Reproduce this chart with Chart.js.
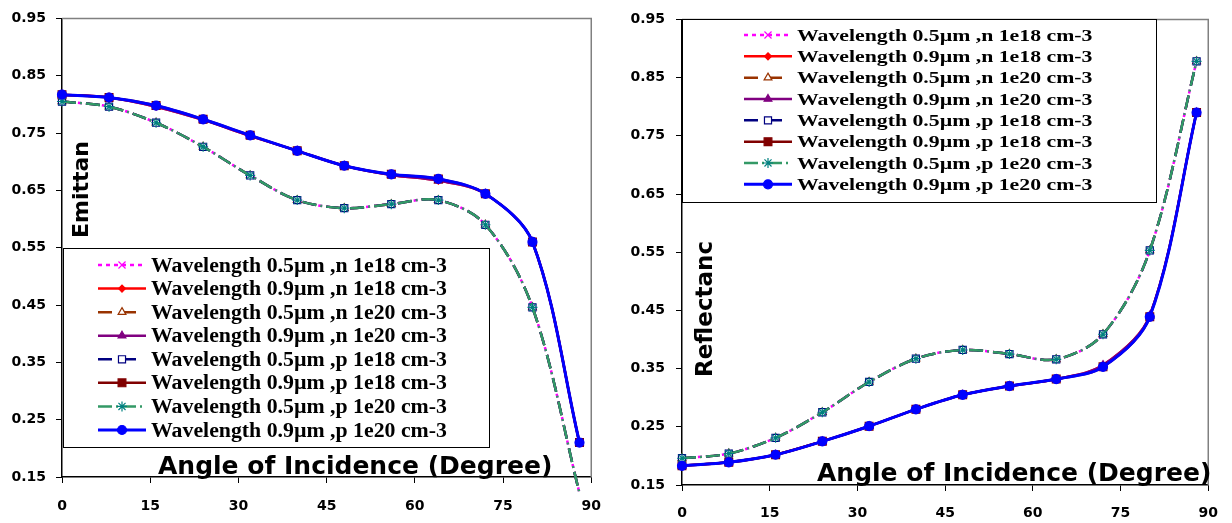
<!DOCTYPE html>
<html>
<head>
<meta charset="utf-8">
<script src="https://cdn.jsdelivr.net/npm/chart.js@4.4.0/dist/chart.umd.min.js"></script>
<style>
  body { margin: 0; background: #fff; }
  #wrap { position: relative; width: 1232px; height: 523px; }
  canvas { position: absolute; top: 0; }
</style>
</head>
<body>
<div id="wrap">
  <canvas id="emitChart" width="616" height="523" style="left:0"></canvas>
  <canvas id="reflChart" width="616" height="523" style="left:616px"></canvas>
</div>
<script>
// angle of incidence (degree)
const angles = [0, 8, 16, 24, 32, 40, 48, 56, 64, 72, 80, 88];

// emittance
const emit05 = [0.805, 0.796, 0.768, 0.726, 0.676, 0.633, 0.619, 0.626, 0.633, 0.590, 0.446, 0.122];
const emit09 = [0.817, 0.812, 0.798, 0.774, 0.746, 0.719, 0.693, 0.678, 0.670, 0.644, 0.560, 0.210];
const emit09n = [0.817, 0.812, 0.796, 0.773, 0.745, 0.719, 0.693, 0.677, 0.667, 0.644, 0.560, 0.210];

// reflectance
const refl05 = [0.196, 0.204, 0.231, 0.275, 0.327, 0.367, 0.382, 0.375, 0.366, 0.409, 0.553, 0.878];
const refl09 = [0.183, 0.189, 0.202, 0.225, 0.251, 0.280, 0.305, 0.320, 0.332, 0.353, 0.439, 0.790];
const refl09n = [0.183, 0.189, 0.202, 0.225, 0.251, 0.280, 0.305, 0.320, 0.332, 0.356, 0.441, 0.790];

const seriesLabels = [
  'Wavelength 0.5µm ,n 1e18 cm-3',
  'Wavelength 0.9µm ,n 1e18 cm-3',
  'Wavelength 0.5µm ,n 1e20 cm-3',
  'Wavelength 0.9µm ,n 1e20 cm-3',
  'Wavelength 0.5µm ,p 1e18 cm-3',
  'Wavelength 0.9µm ,p 1e18 cm-3',
  'Wavelength 0.5µm ,p 1e20 cm-3',
  'Wavelength 0.9µm ,p 1e20 cm-3'
];

const xMin = 0, xMax = 90, xStep = 15;
const yMin = 0.15, yMax = 0.95, yStep = 0.1;

// dashed series share a 24px period so the gaps line up like in the original
const styles = [
  {color: '#FF00FF', dash: [4, 4], point: 'crossRot', r: 5, fill: '#FF00FF', pc: '#FF00FF', w: 2.5},
  {color: '#FF0000', dash: [], point: 'rectRot', r: 3.5, fill: '#FF0000', pc: '#FF0000', w: 2.5},
  {color: '#993300', dash: [14, 10], point: 'triangle', r: 4.5, fill: '#FFFFFF', pc: '#993300', w: 2.5},
  {color: '#800080', dash: [], point: 'triangle', r: 4.5, fill: '#800080', pc: '#800080', w: 2.5},
  {color: '#000080', dash: [14, 10], point: 'rect', r: 5, fill: '#FFFFFF', pc: '#000080', w: 2.5},
  {color: '#800000', dash: [], point: 'rect', r: 5.5, fill: '#800000', pc: '#800000', w: 2.5},
  {color: '#339966', dash: [14, 4, 2, 4], point: 'star', r: 5, fill: '#008080', pc: '#008080', w: 2.5},
  {color: '#0000FF', dash: [], point: 'circle', r: 4.5, fill: '#0000FF', pc: '#0000FF', w: 3}
];

function makeDatasets(seriesValues) {
  return seriesValues.map((vals, i) => {
    const s = styles[i];
    return {
      label: seriesLabels[i],
      data: angles.map((a, k) => ({x: a, y: vals[k]})),
      borderColor: s.color,
      borderWidth: s.w,
      borderDash: s.dash,
      backgroundColor: s.fill,
      pointStyle: s.point,
      pointRadius: ctx => (ctx.raw && ctx.raw.y < yMin) ? 0 : s.r,
      pointBorderColor: s.pc,
      pointBackgroundColor: s.fill,
      pointBorderWidth: 1.2,
      tension: 0.33,
      clip: false,
      order: 7 - i
    };
  });
}

function overlay(o) {
  return {
    id: 'overlay',
    beforeDatasetsDraw(chart) {
      const a = chart.chartArea, ctx = chart.ctx;
      ctx.save();
      ctx.strokeStyle = '#808080';
      ctx.lineWidth = 1.5;
      ctx.beginPath();
      ctx.moveTo(a.left, a.top);
      ctx.lineTo(a.right, a.top);
      ctx.lineTo(a.right, a.bottom);
      ctx.stroke();
      ctx.restore();
    },
    afterDraw(chart) {
      const ctx = chart.ctx;
      ctx.save();
      ctx.fillStyle = '#000';
      // x title
      ctx.font = 'bold 25px "DejaVu Sans"';
      ctx.textBaseline = 'alphabetic';
      ctx.textAlign = 'left';
      ctx.fillText('Angle of Incidence (Degree)', o.xt.x, o.xt.y);
      // y title
      ctx.save();
      ctx.translate(o.yt.x, o.yt.y);
      ctx.rotate(-Math.PI / 2);
      ctx.font = 'bold ' + o.yt.size + 'px "DejaVu Sans"';
      ctx.fillText(o.yt.text, 0, 0);
      ctx.restore();

      // legend
      const L = o.legend;
      ctx.fillStyle = '#fff';
      ctx.fillRect(L.x, L.y, L.w, L.h);
      ctx.strokeStyle = '#000';
      ctx.lineWidth = 1;
      ctx.strokeRect(L.x + 0.5, L.y + 0.5, L.w, L.h);
      chart.data.datasets.forEach((ds, i) => {
        const s = styles[i];
        const y = L.row0 + i * L.step;
        ctx.save();
        ctx.strokeStyle = s.color;
        ctx.lineWidth = s.w;
        ctx.setLineDash(s.dash);
        ctx.beginPath();
        ctx.moveTo(L.l0, y);
        ctx.lineTo(L.l1, y);
        ctx.stroke();
        ctx.restore();
        ctx.save();
        ctx.fillStyle = s.fill;
        ctx.strokeStyle = s.pc;
        ctx.lineWidth = 1.2;
        Chart.helpers.drawPoint(ctx, {pointStyle: s.point, radius: s.r, rotation: 0, borderWidth: 1.2}, (L.l0 + L.l1) / 2, y);
        ctx.restore();
        ctx.save();
        ctx.translate(L.tx, y + 0.33 * L.fs);
        ctx.scale(L.sx, 1);
        ctx.font = 'bold ' + L.fs + 'px "Liberation Serif"';
        ctx.fillStyle = '#000';
        ctx.textBaseline = 'alphabetic';
        ctx.fillText(ds.label, 0, 0);
        ctx.restore();
      });
      ctx.restore();
    }
  };
}

function makeChart(id, seriesValues, box, o) {
  return new Chart(document.getElementById(id), {
    type: 'line',
    data: {datasets: makeDatasets(seriesValues)},
    options: {
      responsive: false,
      animation: false,
      devicePixelRatio: 1,
      layout: {padding: {left: 0, top: box.top, right: box.right, bottom: 0}},
      plugins: {legend: {display: false}, tooltip: {enabled: false}},
      scales: {
        x: {
          type: 'linear',
          min: xMin, max: xMax,
          afterFit: s => { s.height = box.xh; },
          ticks: {stepSize: xStep, color: '#000', padding: box.xpad,
                  font: {family: 'DejaVu Sans', size: 14, weight: 'bold'}},
          grid: {display: true, drawOnChartArea: false, drawTicks: true, tickLength: 6, color: '#000'},
          border: {display: true, color: '#000', width: 1.5}
        },
        y: {
          type: 'linear',
          min: yMin, max: yMax,
          afterFit: s => { s.width = box.yw; },
          ticks: {stepSize: yStep, color: '#000', padding: box.ypad,
                  callback: v => v.toFixed(2),
                  font: {family: 'DejaVu Sans', size: 14, weight: 'bold'}},
          grid: {display: true, drawOnChartArea: false, drawTicks: true, tickLength: 6, color: '#000'},
          border: {display: true, color: '#000', width: 1.5}
        }
      }
    },
    plugins: [overlay(o)]
  });
}

makeChart('emitChart',
  [emit05, emit09n, emit05, emit09n, emit05, emit09, emit05, emit09],
  {top: 14, right: 19, xh: 46, yw: 62, xpad: 15, ypad: 10},
  {
    xt: {x: 158, y: 474},
    yt: {x: 88, y: 238, size: 22, text: 'Emittan'},
    legend: {x: 63, y: 248, w: 426, h: 199, row0: 265, step: 23.57,
             l0: 98, l1: 146, tx: 151, fs: 20, sx: 1.09}
  });

makeChart('reflChart',
  [refl05, refl09n, refl05, refl09n, refl05, refl09, refl05, refl09],
  {top: 19, right: 16, xh: 38, yw: 66, xpad: 14, ypad: 11},
  {
    xt: {x: 201, y: 481},
    yt: {x: 96, y: 377, size: 23, text: 'Reflectanc'},
    legend: {x: 66, y: 19, w: 474, h: 183, row0: 35, step: 21.33,
             l0: 128, l1: 176, tx: 181, fs: 17, sx: 1.28}
  });
</script>
</body>
</html>
